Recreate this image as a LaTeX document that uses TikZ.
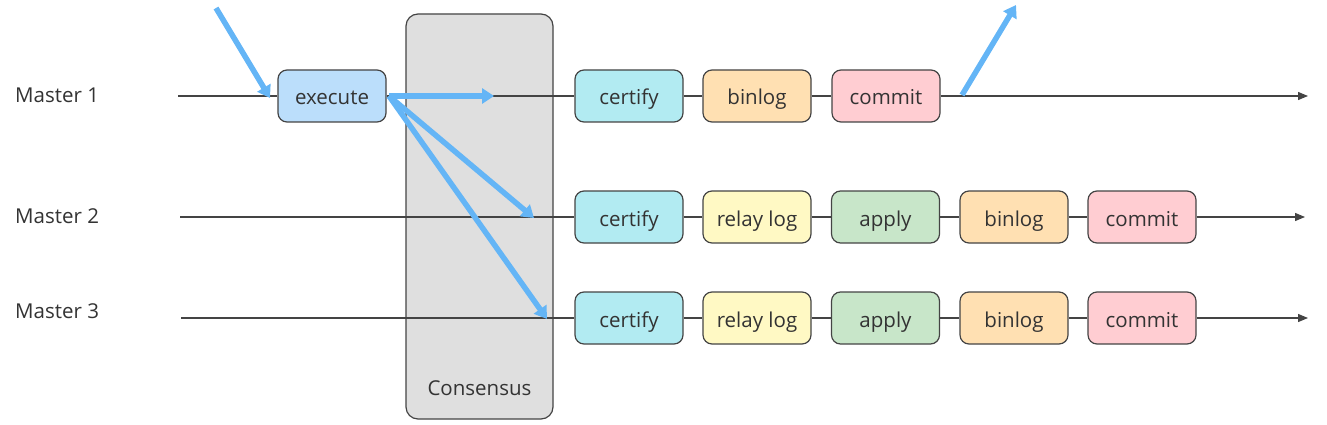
\documentclass[tikz,border=0pt]{standalone}
\usepackage{fontspec}
\setmainfont{Open Sans}
\usetikzlibrary{arrows.meta}
\definecolor{txt}{HTML}{333333}
\definecolor{edge}{HTML}{444444}
\definecolor{bluearr}{HTML}{64B5F6}
\definecolor{cexec}{HTML}{BBDEFB}
\definecolor{ccert}{HTML}{B2EBF2}
\definecolor{crelay}{HTML}{FFF9C4}
\definecolor{capply}{HTML}{C8E6C9}
\definecolor{cbin}{HTML}{FFE0B2}
\definecolor{ccommit}{HTML}{FFCDD2}
\definecolor{cgrey}{HTML}{DFDFDF}
\begin{document}
\begin{tikzpicture}[x=1pt,y=-1pt,
  stage/.style={draw=edge,line width=1.2pt,rounded corners=9pt,minimum width=108pt,minimum height=52pt,inner sep=0pt,text height=18pt,text depth=0pt,text=txt,font=\fontsize{20.5}{24}\selectfont},
  mlabel/.style={anchor=base west,text=txt,inner sep=0pt,font=\fontsize{20.5}{24}\selectfont},
  tl/.style={draw=edge,line width=1.2pt},
  tla/.style={tl,-{Triangle[length=10pt,width=8pt]}},
  barr/.style={draw=bluearr,line width=5.5pt,-{Triangle[length=12pt,width=15pt]}}
]
\useasboundingbox (0,0) rectangle (1327,425);
% consensus box
\node[draw=edge,line width=1.2pt,fill=cgrey,rounded corners=12pt,minimum width=147pt,minimum height=405pt,inner sep=0pt] (cons) at (479.5,216.5) {};
\node[anchor=base,inner sep=0pt,text=txt,font=\fontsize{20.5}{24}\selectfont] (conslbl) at (479.5,395) {Consensus};
% labels
\node[mlabel] (l1) at (15,103) {Master 1};
\node[mlabel] (l2) at (15,223) {Master 2};
\node[mlabel] (l3) at (15,318) {Master 3};
% row 1
\coordinate (s1) at (178,96);
\coordinate (e1) at (1308,96);
\node[stage,fill=cexec] (exec) at (332,96) {execute};
\node[stage,fill=ccert] (c1) at (629,96) {certify};
\node[stage,fill=cbin] (b1) at (757,96) {binlog};
\node[stage,fill=ccommit] (m1) at (886,96) {commit};
% row 2
\coordinate (s2) at (180,217);
\coordinate (e2) at (1305,217);
\node[stage,fill=ccert] (c2) at (629,217) {certify};
\node[stage,fill=crelay] (r2) at (757,217) {relay log};
\node[stage,fill=capply] (a2) at (885.5,217) {apply};
\node[stage,fill=cbin] (b2) at (1014,217) {binlog};
\node[stage,fill=ccommit] (m2) at (1142,217) {commit};
% row 3
\coordinate (s3) at (181,318);
\coordinate (e3) at (1308,318);
\node[stage,fill=ccert] (c3) at (629,318) {certify};
\node[stage,fill=crelay] (r3) at (757,318) {relay log};
\node[stage,fill=capply] (a3) at (885.5,318) {apply};
\node[stage,fill=cbin] (b3) at (1014,318) {binlog};
\node[stage,fill=ccommit] (m3) at (1142,318) {commit};
% timelines
\draw[tl] (s1) -- (exec);
\draw[tl] (exec) -- (c1);
\draw[tl] (c1) -- (b1);
\draw[tl] (b1) -- (m1);
\draw[tla] (m1) -- (e1);
\draw[tl] (s2) -- (c2);
\draw[tl] (c2) -- (r2);
\draw[tl] (r2) -- (a2);
\draw[tl] (a2) -- (b2);
\draw[tl] (b2) -- (m2);
\draw[tla] (m2) -- (e2);
\draw[tl] (s3) -- (c3);
\draw[tl] (c3) -- (r3);
\draw[tl] (r3) -- (a3);
\draw[tl] (a3) -- (b3);
\draw[tl] (b3) -- (m3);
\draw[tla] (m3) -- (e3);
% blue arrows
\coordinate (in0) at (216,8);
\coordinate (in1) at (270,98);
\coordinate (xo) at (389,96);
\coordinate (t1) at (494,96);
\coordinate (t2) at (534,218);
\coordinate (t3) at (547,319);
\coordinate (u0) at (962,95);
\coordinate (u1) at (1016,5);
\draw[barr] (in0) -- (in1);
\draw[barr] (xo) -- (t1);
\draw[barr] (xo) -- (t2);
\draw[barr] (xo) -- (t3);
\draw[barr] (u0) -- (u1);
\end{tikzpicture}
\end{document}
